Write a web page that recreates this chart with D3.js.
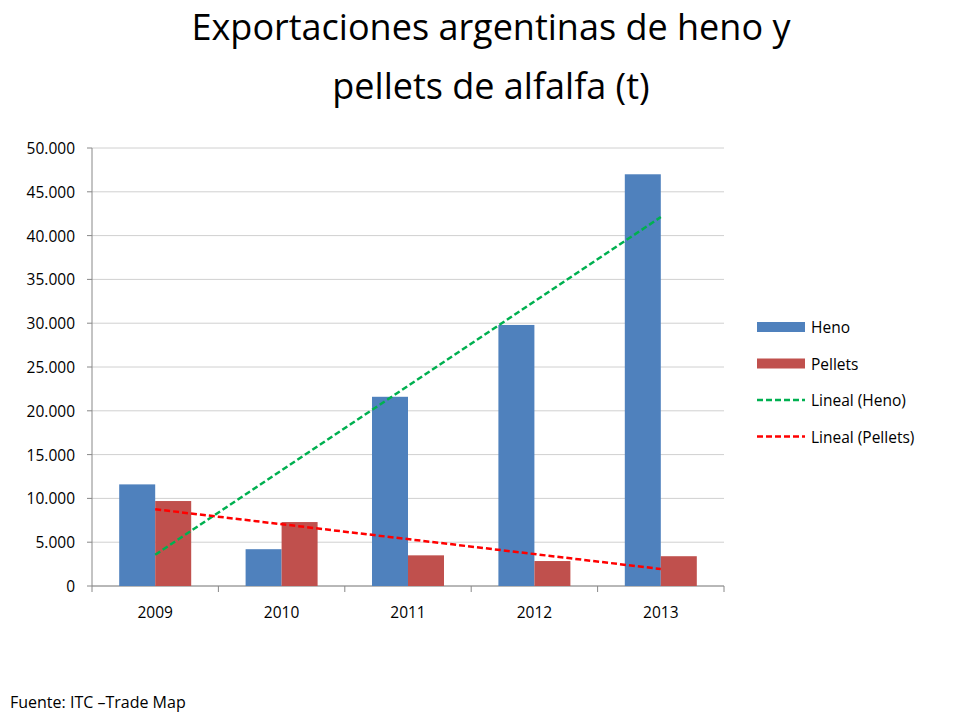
<!DOCTYPE html>
<html><head><meta charset="utf-8">
<script src="https://cdn.jsdelivr.net/npm/d3@7"></script>
<style>body{margin:0;background:#fff;font-family:"Open Sans",sans-serif}</style>
</head><body><svg id="c" width="960" height="720"></svg>
<script>
const years=["2009","2010","2011","2012","2013"];
const heno=[11600,4200,21600,29800,47000];
const pellets=[9700,7300,3500,2850,3400];
const yTicks=[0,5000,10000,15000,20000,25000,30000,35000,40000,45000,50000];
const svg=d3.select("#c");
const L=92,R=724,T=148,B=586;
const x=d3.scaleBand().domain(years).range([L,R]);
const y=d3.scaleLinear().domain([0,50000]).range([B,T]);
const fmt=v=>v===0?"0":d3.format(",")(v).replace(/,/g,".");
svg.append("text").attr("x",491).attr("y",40).attr("text-anchor","middle").attr("font-size",36).text("Exportaciones argentinas de heno y");
svg.append("text").attr("x",491).attr("y",99).attr("text-anchor","middle").attr("font-size",36).text("pellets de alfalfa (t)");
svg.append("g").selectAll("line").data(yTicks).join("line").attr("x1",L).attr("x2",R).attr("y1",d=>y(d)).attr("y2",d=>y(d)).attr("stroke","#d0d0d0");
svg.append("line").attr("x1",L).attr("x2",L).attr("y1",T).attr("y2",B).attr("stroke","#888");
svg.append("line").attr("x1",L).attr("x2",R).attr("y1",B).attr("y2",B).attr("stroke","#888");
svg.append("g").selectAll("line").data(yTicks).join("line").attr("x1",L-5).attr("x2",L).attr("y1",d=>y(d)).attr("y2",d=>y(d)).attr("stroke","#888");
svg.append("g").selectAll("text").data(yTicks).join("text").attr("x",L-17).attr("y",d=>y(d)+6).attr("text-anchor","end").attr("font-size",15.5).text(fmt);
svg.append("g").selectAll("line").data(d3.range(6)).join("line").attr("x1",i=>L+i*x.bandwidth()).attr("x2",i=>L+i*x.bandwidth()).attr("y1",B).attr("y2",B+6).attr("stroke","#888");
svg.append("g").selectAll("text").data(years).join("text").attr("x",d=>x(d)+x.bandwidth()/2).attr("y",B+32).attr("text-anchor","middle").attr("font-size",15.5).text(d=>d);
const bw=36;
const C1="#4f81bd",C2="#c0504d";
svg.append("g").selectAll("rect").data(years).join("rect").attr("x",(d)=>x(d)+x.bandwidth()/2-bw).attr("width",bw).attr("y",(d,i)=>y(heno[i])).attr("height",(d,i)=>B-y(heno[i])).attr("fill",C1);
svg.append("g").selectAll("rect").data(years).join("rect").attr("x",(d)=>x(d)+x.bandwidth()/2).attr("width",bw).attr("y",(d,i)=>y(pellets[i])).attr("height",(d,i)=>B-y(pellets[i])).attr("fill",C2);
function trend(v){const n=v.length,xs=d3.range(1,n+1),mx=d3.mean(xs),my=d3.mean(v);
 const s=d3.sum(xs,(k,i)=>(k-mx)*(v[i]-my))/d3.sum(xs,k=>(k-mx)**2);return [my+s*(1-mx),my+s*(n-mx)];}
[[heno,"#00b050"],[pellets,"#ff0000"]].forEach(([v,c])=>{const t=trend(v);
 svg.append("line").attr("x1",x(years[0])+x.bandwidth()/2).attr("x2",x(years[4])+x.bandwidth()/2).attr("y1",y(t[0])).attr("y2",y(t[1])).attr("stroke",c).attr("stroke-width",2.5).attr("stroke-dasharray","6,3");});
const leg=[["Heno",C1,"bar"],["Pellets",C2,"bar"],["Lineal (Heno)","#00b050","line"],["Lineal (Pellets)","#ff0000","line"]];
leg.forEach((l,i)=>{const yy=327+i*36.5;
 if(l[2]==="bar")svg.append("rect").attr("x",757).attr("y",yy-5).attr("width",48).attr("height",10).attr("fill",l[1]);
 else svg.append("line").attr("x1",757).attr("x2",805).attr("y1",yy).attr("y2",yy).attr("stroke",l[1]).attr("stroke-width",2.5).attr("stroke-dasharray","6,3");
 svg.append("text").attr("x",811).attr("y",yy+6).attr("font-size",15.5).text(l[0]);});
svg.append("text").attr("x",10).attr("y",708).attr("font-size",16).text("Fuente: ITC –Trade Map");
</script></body></html>
